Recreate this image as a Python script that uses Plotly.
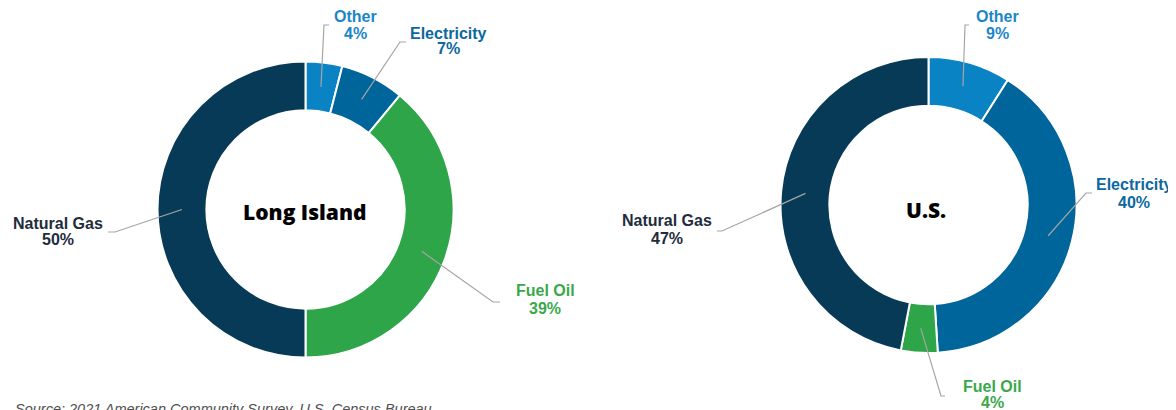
import math
import plotly.graph_objects as go

W, H = 1176, 410
OFF = 8  # page body margin that shifts the figure on screen

categories = ["Other", "Electricity", "Fuel Oil", "Natural Gas"]
long_island = [4, 7, 39, 50]
us = [9, 40, 4, 47]
titles = ["Long Island", "U.S."]
source = "Source: 2021 American Community Survey, U.S. Census Bureau"

slice_colors = ["#0a83c4", "#00659b", "#2fa549", "#073a57"]
label_colors = ["#1a86c8", "#0b68a0", "#3aa84a", "#1e2c3c"]

# layout (screen pixels): donut centers, outer radius, hole ratio
centers = [(305.5, 209.5), (928.5, 205)]
title_pos = [(304, 212), (926, 210)]
R_OUT = 148
HOLE = 0.67
# label text centers (x, y of name line, y of percent line)
label_pos = [
    [(355, 16, 33), (448, 33, 49), (545, 290, 308), (58, 223, 240)],
    [(997, 16, 33), (1134, 185, 202), (992, 386, 402), (667, 220, 238)],
]
# leader elbows: (elbow x, elbow y, end x)
elbows = [
    [(324, 25, 329), (400, 42, 406), (493, 302, 500), (115, 232, 108)],
    [(965, 25, 969), (1086, 193, 1092), (941, 396, 945), (722, 231, 717)],
]

FONT = "Liberation Sans, Arial"

fig = go.Figure()
shapes, annotations = [], []


def px(x):
    return (x - OFF) / W


def py(y):
    return 1 - (y - OFF) / H


for ci, (vals, (cx, cy), title) in enumerate(zip([long_island, us], centers, titles)):
    fig.add_trace(go.Pie(
        labels=categories, values=vals, sort=False, direction="clockwise", rotation=0,
        hole=HOLE, textinfo="none", hoverinfo="label+percent",
        marker=dict(colors=slice_colors, line=dict(color="white", width=2)),
        domain=dict(x=[px(cx - R_OUT), px(cx + R_OUT)], y=[py(cy + R_OUT), py(cy - R_OUT)]),
        showlegend=False,
    ))
    tx, ty = title_pos[ci]
    annotations.append(dict(
        x=px(tx), y=py(ty), xref="paper", yref="paper", showarrow=False,
        xanchor="center", yanchor="middle",
        text=title, font=dict(size=21, color="#000000", family="Open Sans", weight=800),
    ))
    total = sum(vals)
    cum = 0
    r_mid = R_OUT * (1 + HOLE) / 2
    for k, (cat, v) in enumerate(zip(categories, vals)):
        mid = (cum + v / 2) / total * 2 * math.pi
        cum += v
        sx = cx + r_mid * math.sin(mid)
        sy = cy - r_mid * math.cos(mid)
        ex, ey, endx = elbows[ci][k]
        path = f"M {px(sx)},{py(sy)} L {px(ex)},{py(ey)} L {px(endx)},{py(ey)}"
        shapes.append(dict(type="path", xref="paper", yref="paper", path=path,
                           line=dict(color="#a5a5a5", width=1.2)))
        pct = round(v / total * 100)
        lx, ly1, ly2 = label_pos[ci][k]
        for txt, yy in ((cat, ly1), (f"{pct}%", ly2)):
            annotations.append(dict(
                x=px(lx), y=py(yy), xref="paper", yref="paper", showarrow=False,
                xanchor="center", yanchor="middle",
                text=f"<b>{txt}</b>",
                font=dict(size=16, color=label_colors[k], family=FONT),
            ))

annotations.append(dict(
    x=px(13), y=py(409), xref="paper", yref="paper", xanchor="left", yanchor="middle",
    showarrow=False, text=f"<i>{source}</i>",
    font=dict(size=14.5, color="#505050", family=FONT),
))

fig.update_layout(
    width=W, height=H, margin=dict(l=0, r=0, t=0, b=0),
    paper_bgcolor="white", plot_bgcolor="white",
    shapes=shapes, annotations=annotations,
)

fig.write_html("out.html")
